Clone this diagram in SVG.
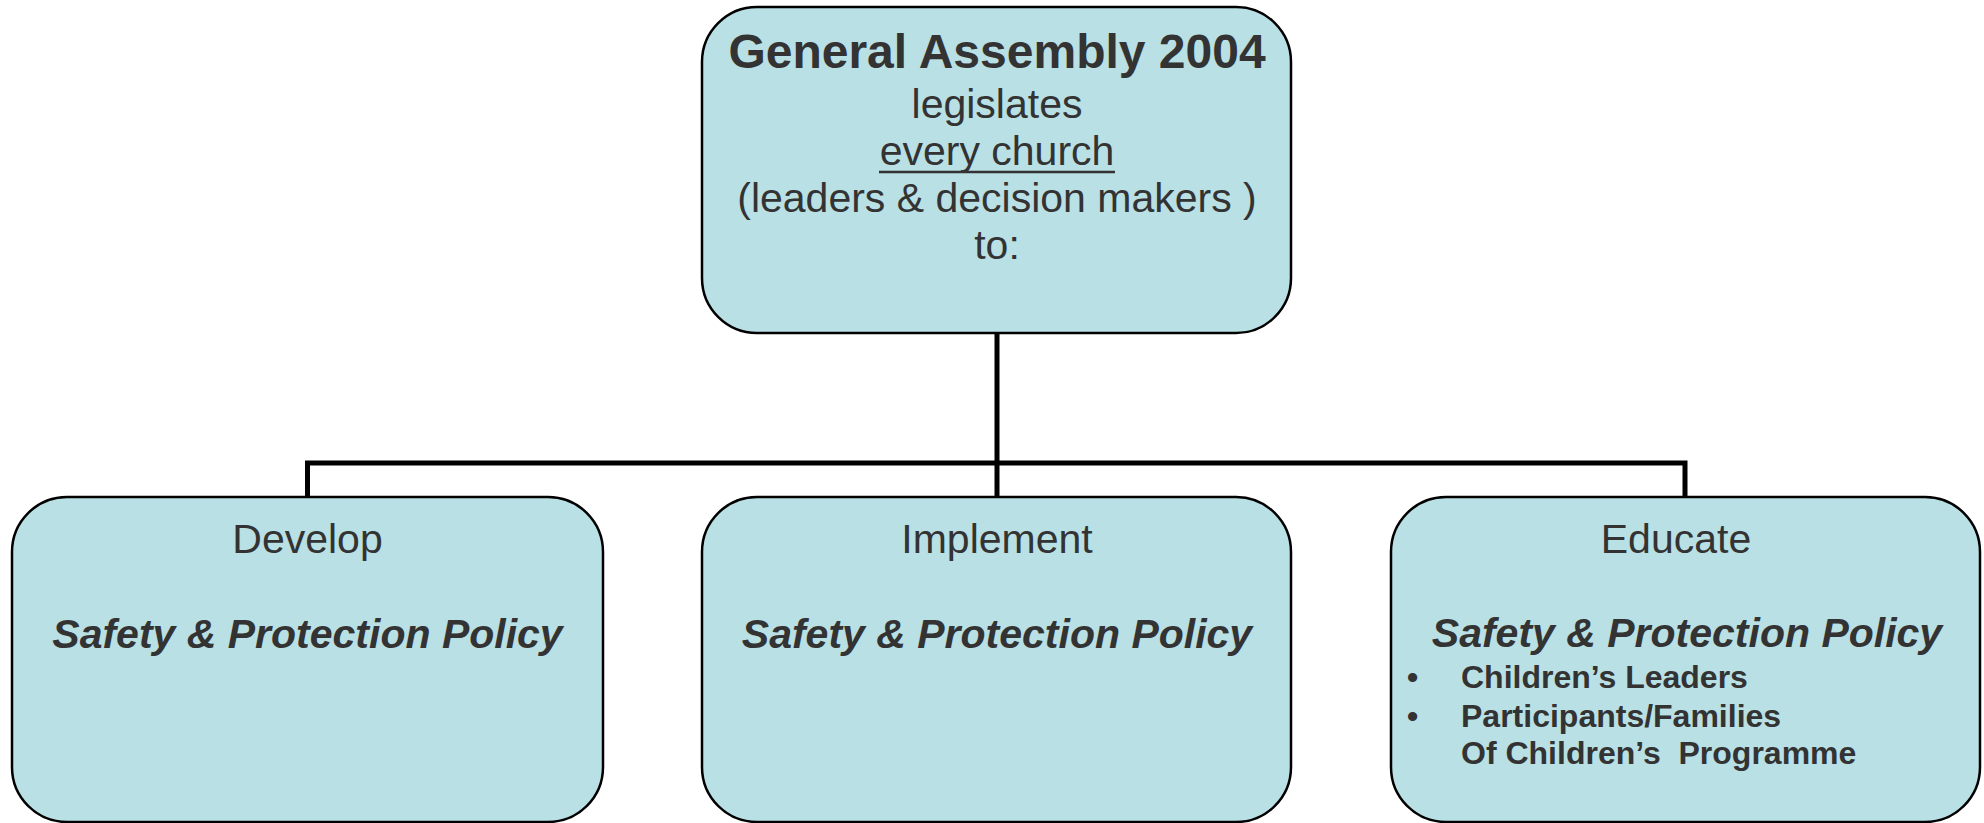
<svg xmlns="http://www.w3.org/2000/svg" width="1984" height="823" viewBox="0 0 1984 823">
<style>
.box{fill:#B9E0E4;stroke:#000;stroke-width:2.5}
.t{font-family:"Liberation Sans",Arial,sans-serif;fill:#333;text-anchor:middle}
.reg{font-size:41px}
.title{font-size:48px;font-weight:bold}
.pol{font-size:41px;font-weight:bold;font-style:italic}
.bul{font-family:"Liberation Sans",Arial,sans-serif;fill:#333;font-size:32px;font-weight:bold}
.conn{stroke:#000;stroke-width:5;fill:none}
</style>
<rect width="1984" height="823" fill="#fff"/>
<g id="connectors">
<path class="conn" d="M997 333 V497"/>
<path class="conn" d="M307.5 497 V463 H1685 V497"/>
</g>
<g id="general-assembly">
<rect class="box" x="702" y="7" width="589" height="326" rx="55" ry="55"/>
<text class="t title" x="997" y="68">General Assembly 2004</text>
<text class="t reg" x="997" y="118">legislates</text>
<text class="t reg" x="997" y="165">every church</text>
<line x1="879" y1="172" x2="1115" y2="172" stroke="#333" stroke-width="2.5"/>
<text class="t reg" x="997" y="212">(leaders &amp; decision makers )</text>
<text class="t reg" x="997" y="259">to:</text>
</g>
<g id="develop">
<rect class="box" x="12" y="497" width="591" height="325" rx="55" ry="55"/>
<text class="t reg" x="307.5" y="553">Develop</text>
<text class="t pol" x="307.5" y="648">Safety &amp; Protection Policy</text>
</g>
<g id="implement">
<rect class="box" x="702" y="497" width="589" height="325" rx="55" ry="55"/>
<text class="t reg" x="997" y="553">Implement</text>
<text class="t pol" x="997" y="648">Safety &amp; Protection Policy</text>
</g>
<g id="educate">
<rect class="box" x="1391" y="497" width="589" height="325" rx="55" ry="55"/>
<text class="t reg" x="1676" y="553">Educate</text>
<text class="t pol" x="1687" y="647">Safety &amp; Protection Policy</text>
<text class="bul" x="1407" y="688">•</text>
<text class="bul" x="1461" y="688">Children’s Leaders</text>
<text class="bul" x="1407" y="727">•</text>
<text class="bul" x="1461" y="727">Participants/Families</text>
<text class="bul" x="1461" y="764" xml:space="preserve">Of Children’s  Programme</text>
</g>
</svg>
